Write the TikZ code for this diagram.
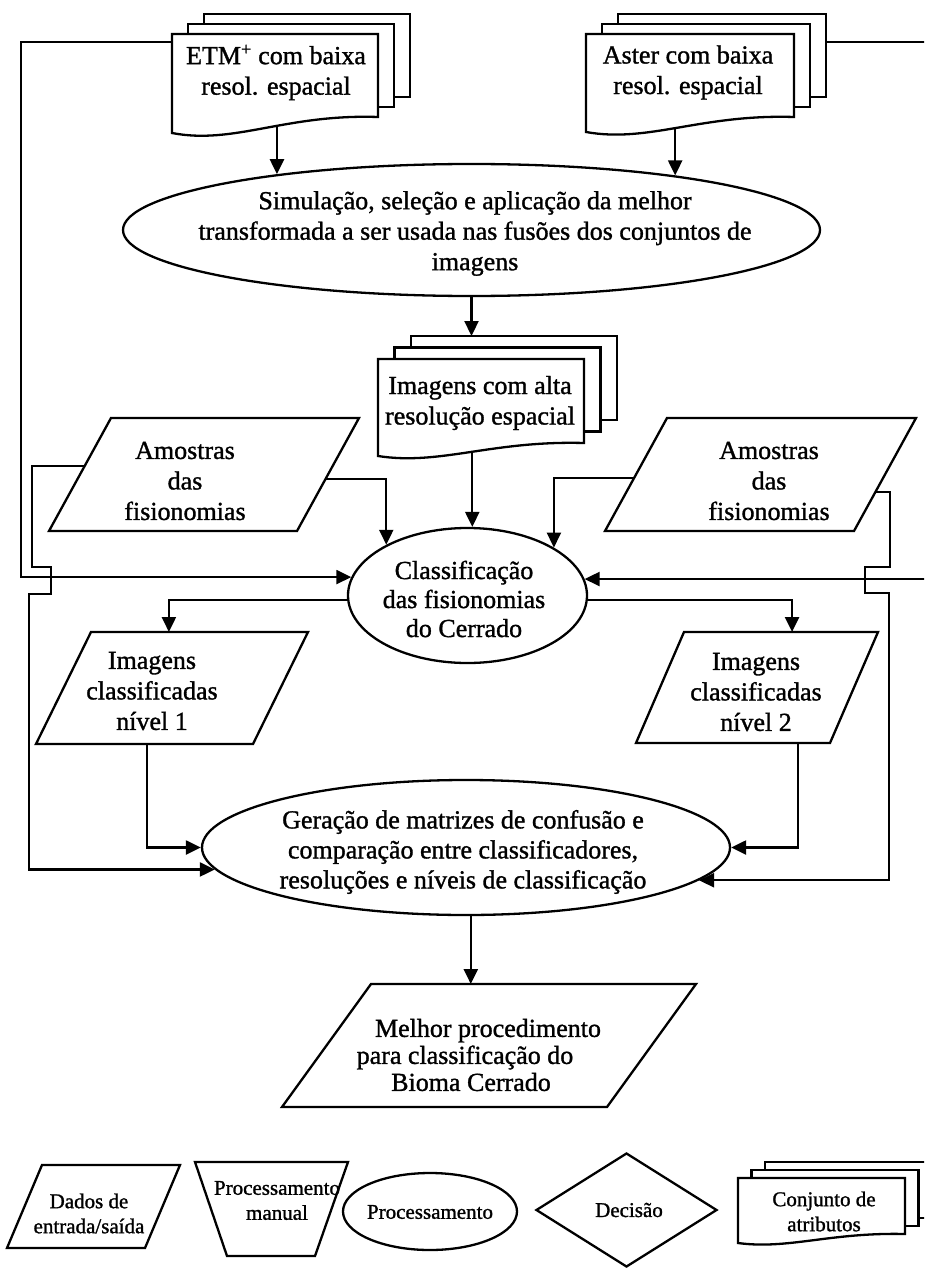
\documentclass[tikz,border=0pt]{standalone}
\usepackage{fontspec}
\setmainfont{Liberation Serif}[FakeBold=1.2]
\usetikzlibrary{arrows.meta,shapes.geometric,calc}

% stacked "document" symbol: name, left, top, right, bottom-left y, bottom-right y, sheet dx, sheet dy, pos of exit point on wavy edge
\newcommand\docstack[9]{%
  \draw[shp] ({#2+2*#7},{#3-#8}) -- ({#2+2*#7},{#3-2*#8}) -- ({#4+2*#7},{#3-2*#8}) -- ({#4+2*#7},{#6-2*#8}) -- ({#4+#7},{#6-2*#8});
  \draw[shp] ({#2+#7},#3) -- ({#2+#7},{#3-#8}) -- ({#4+#7},{#3-#8}) -- ({#4+#7},{#6-#8}) -- (#4,{#6-#8});
  \draw[shp] (#2,#5) .. controls ({#2+0.3*(#4-#2)},{#5+0.75*(#5-#6)}) and ({#2+0.55*(#4-#2)},{#6-0.2*(#5-#6)}) .. (#4,#6) coordinate[pos=#9] (#1-b) -- (#4,#3) -- (#2,#3) -- cycle;
  \coordinate (#1-l) at (#2,{#3+8});
  \coordinate (#1-r) at ({#4+2*#7},{#3+8});
  \coordinate (#1-top) at ({#2+2*#7},{#3-2*#8});
}
% parallelogram (data symbol): name, bottom-left x, bottom y, bottom-right x, slant, top y
\newcommand\parashape[6]{%
  \draw[shp] (#2,#3) coordinate (#1-bl) -- (#4,#3) coordinate (#1-br) -- ({#4+#5},#6) coordinate (#1-tr) -- ({#2+#5},#6) coordinate (#1-tl) -- cycle;
}

\begin{document}
\begin{tikzpicture}[x=1pt,y=-1pt,
  shp/.style={draw, line width=2.3pt, line join=miter},
  arr/.style={draw, line width=2.3pt, -{Triangle[length=15pt,width=14pt]}},
  ell/.style={draw, ellipse, line width=2.3pt, inner sep=0pt},
  tx/.style={align=center, inner sep=0pt, font=\fontsize{26pt}{30.5pt}\selectfont},
  lg/.style={align=center, inner sep=0pt, font=\fontsize{21pt}{25pt}\selectfont}]
\useasboundingbox (0,0) rectangle (924,1268);
\clip (0,0) rectangle (924,1268);

% inputs
\docstack{etm}{172}{34}{378}{133}{117}{16}{10}{0.575}
\node[tx] (etmT) at (276,72.5) {ETM\textsuperscript{+} com baixa\\resol. espacial};
\docstack{ast}{586}{34}{794}{132}{117}{16}{10}{0.465}
\node[tx] (astT) at (688,72.5) {Aster com baixa\\resol. espacial};

% fusion
\node[ell, minimum width=697pt, minimum height=132pt] (sim) at (471.5,230) {};
\node[tx] (simT) at (475,233.5) {Simulação, seleção e aplicação da melhor\\transformada a ser usada nas fusões dos conjuntos de\\imagens};
\docstack{img}{378}{359}{584}{456}{443}{16.5}{11.5}{0.513}
\node[tx] (imgT) at (480,403) {Imagens com alta\\resolução espacial};

% samples
\parashape{amL}{49}{531}{297}{62}{418}
\node[tx] (amLT) at (185,481) {Amostras\\das\\fisionomias};
\parashape{amR}{605}{531}{854}{62}{418}
\node[tx] (amRT) at (769,481) {Amostras\\das\\fisionomias};

% classification
\node[ell, minimum width=239pt, minimum height=135pt] (cls) at (467.5,595.5) {};
\node[tx, font=\fontsize{26pt}{29pt}\selectfont] (clsT) at (464,599) {Classificação\\das fisionomias\\do Cerrado};
\parashape{n1}{36}{744}{253}{55}{632}
\node[tx] (n1T) at (152,691) {Imagens\\classificadas\\nível 1};
\parashape{n2}{636}{743}{830}{48}{632}
\node[tx] (n2T) at (756,692) {Imagens\\classificadas\\nível 2};

% evaluation
\node[ell, minimum width=528pt, minimum height=135pt] (ger) at (466,847.5) {};
\node[tx, font=\fontsize{26pt}{30pt}\selectfont] (gerT) at (463,852) {Geração de matrizes de confusão e\\comparação entre classificadores,\\resoluções e níveis de classificação};
\parashape{mel}{282}{1107}{607}{89}{984}
\node[tx, font=\fontsize{26pt}{27pt}\selectfont] (melT) at (471,1055) {\hspace*{34pt}Melhor procedimento\\para classificação do\hspace*{12pt}\null\\Bioma Cerrado};

% connectors
\draw[arr] (sim.164.1 |- etm-b) -- (sim.164.1);
\draw[arr] (sim.15.2 |- ast-b) -- (sim.15.2);
\draw[arr] (sim.south) -- (sim.south |- img-top);
\draw[arr] (cls.86.2 |- img-b) -- (cls.86.2);
\draw[arr] ($(amL-br)!0.46!(amL-tr)$) -| (cls.148.2);
\draw[arr] ($(amR-bl)!0.469!(amR-tl)$) -| (cls.29.4);
\draw[arr] (etm-l) -- ++(-151,0) |- (cls.171.4);
\draw[arr] (ast-r) -- ++(104,0) |- (cls.8.1);
\draw[arr] (cls.182.2) -| ($(n1-tl)!0.359!(n1-tr)$);
\draw[arr] (cls.358.8) -| ($(n2-tl)!0.557!(n2-tr)$);
\draw[arr] ($(amL-bl)!0.575!(amL-tl)$) -| (32,567) -- (51,567) -- (51,594) -- (29,594) |- (ger.185.2);
\draw[arr] ($(amR-br)!0.345!(amR-tr)$) -| (890,567) -- (865,567) -- (865,593) -- (889,593) |- (ger.352.9);
\draw[arr] ($(n1-bl)!0.512!(n1-br)$) |- (ger.west);
\draw[arr] ($(n2-bl)!0.835!(n2-br)$) |- (ger.east);
\draw[arr] (ger.274.2) -- (ger.274.2 |- mel-tl);

% legend
\parashape{dad}{7}{1248}{145}{35}{1165}
\node[lg] (dadT) at (89,1213.5) {Dados de\\entrada/saída};
\draw[shp] (195,1162) coordinate (pm-tl) -- (348,1162) -- (315,1256) -- (227,1256) -- cycle;
\node[lg] (pmT) at (277,1200.5) {Processamento\\manual};
\node[ell, minimum width=174pt, minimum height=77pt] (prc) at (430,1211.5) {};
\node[lg] (prcT) at (430,1212) {Processamento};
\node[shp, diamond, minimum width=181pt, minimum height=114pt, inner sep=0pt] (dec) at (626.5,1210) {};
\node[lg] (decT) at (629,1210) {Decisão};
\docstack{cnj}{738}{1178}{905}{1243}{1234}{13.5}{8}{0.5}
\node[lg] (cnjT) at (824,1211.5) {Conjunto de\\atributos};
\end{tikzpicture}
\end{document}
